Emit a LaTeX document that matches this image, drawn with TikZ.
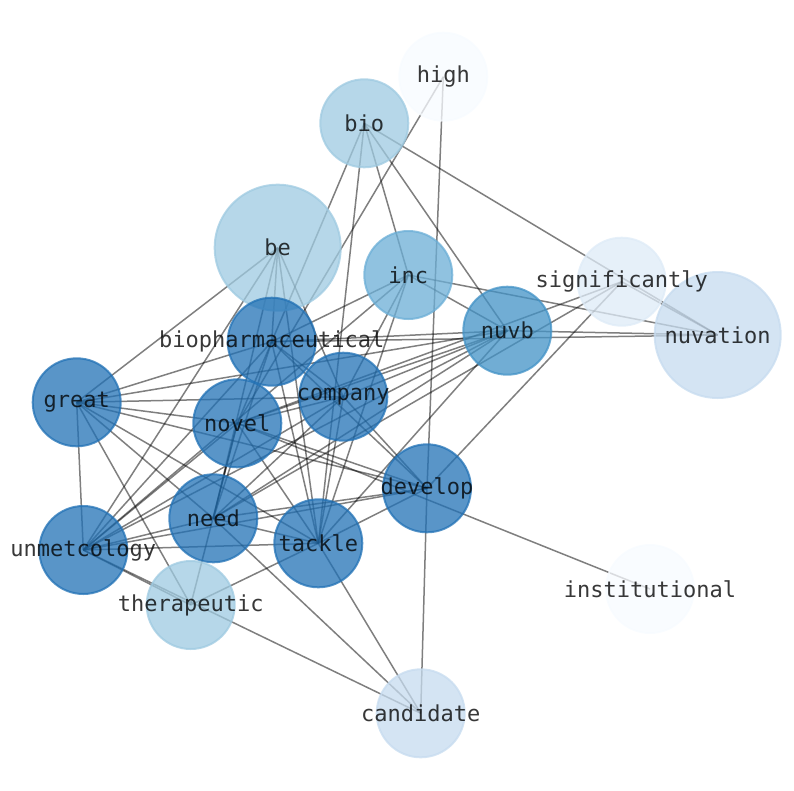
\documentclass[tikz,border=0pt]{standalone}
\usepackage{fontspec}
\setmonofont{DejaVu Sans Mono}
\usetikzlibrary{backgrounds}
\definecolor{cA}{HTML}{F7FBFF}
\definecolor{cB}{HTML}{DEEBF7}
\definecolor{cC}{HTML}{C6DBEF}
\definecolor{cD}{HTML}{9ECAE1}
\definecolor{cE}{HTML}{6BAED6}
\definecolor{cF}{HTML}{4292C6}
\definecolor{cG}{HTML}{2171B5}
\begin{document}
\begin{tikzpicture}[x=1pt,y=-1pt,
  vtx/.style={circle, inner sep=0pt, minimum size=88pt, line width=2pt, fill=#1, draw=#1, opacity=0.75},
  bigvtx/.style={vtx=#1, minimum size=126pt},
  lbl/.style={font=\ttfamily\fontsize{22}{26}\selectfont, text=black, text opacity=0.78, inner sep=0pt},
  link/.style={draw=black, opacity=0.5, line width=1.5pt}]
\useasboundingbox (0,0) rectangle (794,790);
% vertices
\node[vtx=cA] (high) at (443.3,76.7) {};
\node[vtx=cD] (bio) at (364.3,123.3) {};
\node[bigvtx=cD] (be) at (277.7,247.7) {};
\node[vtx=cE] (inc) at (408.3,275) {};
\node[vtx=cB] (sig) at (621.7,281.7) {};
\node[bigvtx=cC] (nuvation) at (717.7,335) {};
\node[vtx=cF] (nuvb) at (507.3,330.7) {};
\node[vtx=cG] (biopharm) at (271.7,341.7) {};
\node[vtx=cG] (great) at (76.7,402.3) {};
\node[vtx=cG] (company) at (343.3,396.7) {};
\node[vtx=cG] (novel) at (237.3,423.3) {};
\node[vtx=cG] (develop) at (427,488.3) {};
\node[vtx=cG] (need) at (213.3,518.3) {};
\node[vtx=cG] (tackle) at (318.3,543.3) {};
\node[vtx=cG] (unmet) at (83.3,550) {};
\node[vtx=cD] (therapeutic) at (190.7,605) {};
\node[vtx=cA] (institutional) at (650,589) {};
\node[vtx=cC] (candidate) at (420.7,713.3) {};
% labels
\node[lbl] (t-high) at (high) {high};
\node[lbl] (t-bio) at (bio) {bio};
\node[lbl] (t-be) at (be) {be};
\node[lbl] (t-inc) at (inc) {inc};
\node[lbl] (t-sig) at (sig) {significantly};
\node[lbl] (t-nuvation) at (nuvation) {nuvation};
\node[lbl] (t-nuvb) at (nuvb) {nuvb};
\node[lbl] (t-biopharm) at (biopharm) {biopharmaceutical};
\node[lbl] (t-great) at (great) {great};
\node[lbl] (t-company) at (company) {company};
\node[lbl] (t-novel) at (novel) {novel};
\node[lbl] (t-develop) at (develop) {develop};
\node[lbl] (t-need) at (need) {need};
\node[lbl] (t-tackle) at (tackle) {tackle};
\node[lbl] (t-unmet) at (unmet) {unmetcology};
\node[lbl] (t-therapeutic) at (therapeutic) {therapeutic};
\node[lbl] (t-institutional) at (institutional) {institutional};
\node[lbl] (t-candidate) at (candidate) {candidate};
% links
\begin{scope}[on background layer]
\foreach \a/\b in {high/develop, develop/candidate, high/novel,
  bio/nuvation, bio/nuvb, bio/inc, bio/tackle, bio/biopharm,
  be/great, be/unmet, be/biopharm, be/tackle, be/company, be/need,
  inc/biopharm, inc/nuvb, inc/nuvation, inc/company, inc/tackle, inc/unmet,
  nuvb/biopharm, nuvb/nuvation, nuvb/great, nuvb/company, nuvb/novel, nuvb/unmet, nuvb/tackle, nuvb/need,
  sig/nuvation, sig/develop, sig/need, sig/novel,
  nuvation/biopharm, novel/institutional,
  great/biopharm, great/company, great/novel, great/develop, great/tackle, great/need, great/unmet, great/therapeutic,
  biopharm/company, biopharm/novel, biopharm/tackle, biopharm/unmet, biopharm/need, biopharm/develop,
  company/novel, company/develop, company/tackle, company/unmet, company/need,
  novel/develop, novel/tackle, novel/need, novel/unmet,
  develop/tackle, develop/need, develop/unmet,
  need/tackle, need/unmet, need/candidate,
  tackle/unmet, tackle/therapeutic, tackle/candidate,
  unmet/therapeutic, unmet/candidate, therapeutic/novel}
  \draw[link] (\a.center) -- (\b.center);
\end{scope}
\end{tikzpicture}
\end{document}
